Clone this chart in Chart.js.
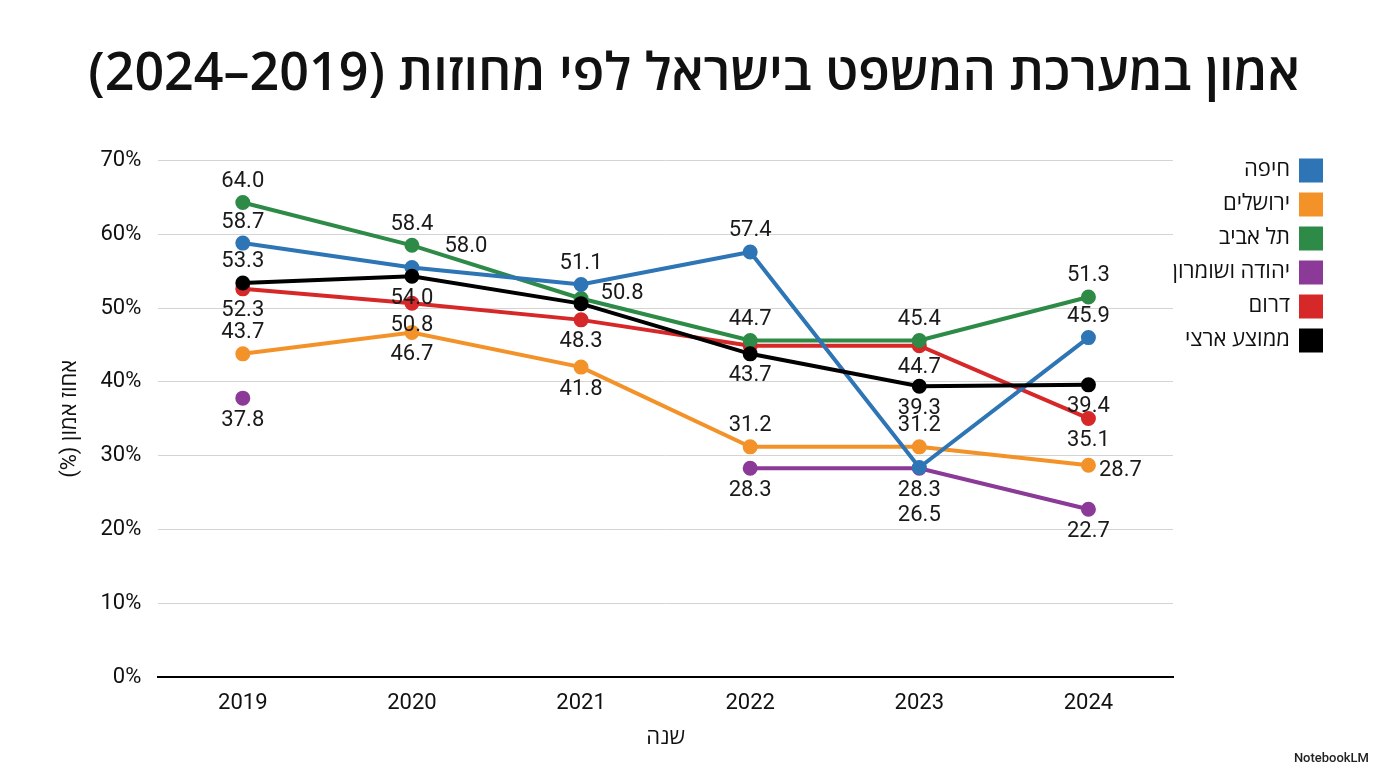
<!DOCTYPE html>
<html lang="he">
<head>
<meta charset="utf-8">
<title>אמון במערכת המשפט בישראל לפי מחוזות</title>
<script src="https://cdn.jsdelivr.net/npm/chart.js@4.4.1/dist/chart.umd.min.js"></script>
<style>
  html, body { margin: 0; padding: 0; background: #fff; }
  #wrap { position: relative; width: 1376px; height: 768px; }
  #mark { position: absolute; right: 7px; bottom: 3px; font: 500 13px Roboto, sans-serif; color: #222; }
</style>
</head>
<body>
<div id="wrap">
  <canvas id="chart" dir="rtl"></canvas>
  <div id="mark">NotebookLM</div>
</div>
<script>
// years on the x axis
const years = ['2019', '2020', '2021', '2022', '2023', '2024'];
const yTicks = [0, 10, 20, 30, 40, 50, 60, 70];

// point values (null = no point)
const haifa     = [58.8, 55.5, 53.2, 57.6, 28.4, 46.0];
const jerusalem = [43.8, 46.7, 42.0, 31.2, 31.2, 28.7];
const telAviv   = [64.3, 58.5, 51.3, 45.6, 45.6, 51.5];
const judea     = [37.8, null, null, 28.3, 28.3, 22.75];
const south     = [52.6, 50.65, 48.4, 44.9, 44.9, 35.05];
const national  = [53.4, 54.3, 50.6, 43.8, 39.4, 39.6];

// the label text printed next to each point (as it appears on the chart)
const haifaText     = ['58.7', '58.0', '51.1', '57.4', '26.5', '45.9'];
const jerusalemText = ['43.7', '46.7', '41.8', '31.2', '31.2', '28.7'];
const telAvivText   = ['64.0', '58.4', null, '44.7', '45.4', '51.3'];
const judeaText     = ['37.8', null, null, '28.3', '28.3', '22.7'];
const southText     = ['52.3', '50.8', '48.3', null, '44.7', '35.1'];
const nationalText  = ['53.3', '54.0', '50.8', '43.7', '39.3', '39.4'];

// where each label sits relative to its point
const haifaPos     = ['a', 'ur', 'a', 'a', 'b2', 'a'];
const jerusalemPos = ['a', 'b', 'b', 'a', 'a', 'r'];
const telAvivPos   = ['a', 'a', null, 'a', 'a', 'a'];
const judeaPos     = ['b', null, null, 'b', 'b', 'b'];
const southPos     = ['b', 'b', 'b', null, 'b', 'b'];
const nationalPos  = ['a', 'b', 'r2', 'b', 'b', 'b'];

const OFFSETS = { a: [0, -21], b: [0, 22], b2: [0, 48], ur: [54, -21], r: [32, 5], r2: [41, -10] };

const FONT = "Roboto, 'Open Sans', 'Noto Sans', sans-serif";

// draws the number next to each point
const pointLabels = {
  id: 'pointLabels',
  afterDatasetsDraw(chart) {
    const ctx = chart.ctx;
    ctx.save();
    ctx.font = '22px ' + FONT;
    ctx.fillStyle = '#1a1a1a';
    ctx.textAlign = 'center';
    ctx.textBaseline = 'middle';
    chart.data.datasets.forEach((ds, i) => {
      const meta = chart.getDatasetMeta(i);
      ds.pointText.forEach((t, j) => {
        if (!t) return;
        const pt = meta.data[j];
        const off = OFFSETS[ds.pointPos[j]];
        ctx.fillText(t, pt.x + off[0], pt.y + off[1]);
      });
    });
    ctx.restore();
  }
};

// the legend starts a little above the top gridline, nudge it up
const legendNudge = {
  id: 'legendNudge',
  afterLayout(chart) {
    const lg = chart.legend;
    if (!lg) return;
    lg.top -= 13;
    lg.bottom -= 13;
  }
};

function series(label, data, color, text, pos, order) {
  return {
    label: label,
    data: data,
    borderColor: color,
    backgroundColor: color,
    pointBackgroundColor: color,
    pointBorderColor: color,
    borderWidth: 4,
    pointRadius: 5.5,
    pointHoverRadius: 5.5,
    spanGaps: false,
    tension: 0,
    order: order,
    pointText: text,
    pointPos: pos
  };
}

new Chart(document.getElementById('chart'), {
  type: 'line',
  data: {
    labels: years,
    datasets: [
      series('חיפה', haifa, '#2E75B6', haifaText, haifaPos, 1),
      series('ירושלים', jerusalem, '#F39229', jerusalemText, jerusalemPos, 1),
      series('תל אביב', telAviv, '#2E8B47', telAvivText, telAvivPos, 1),
      series('יהודה ושומרון', judea, '#8B3A98', judeaText, judeaPos, 1),
      series('דרום', south, '#D62829', southText, southPos, 1),
      series('ממוצע ארצי', national, '#000000', nationalText, nationalPos, 0)
    ]
  },
  options: {
    responsive: true,
    maintainAspectRatio: false,
    animation: false,
    layout: { padding: { left: 55, right: 43, bottom: 12 } },
    plugins: {
      title: {
        display: true,
        text: 'אמון במערכת המשפט בישראל לפי מחוזות (2019–2024)',
        color: '#111',
        font: { family: "'Open Sans', Roboto, sans-serif", size: 52, weight: '600' },
        padding: { top: 44, bottom: 54 }
      },
      legend: {
        position: 'right',
        align: 'start',
        fullSize: false,
        maxWidth: 160,
        rtl: true,
        textDirection: 'rtl',
        labels: {
          boxWidth: 20,
          boxHeight: 20,
          padding: 12,
          color: '#111',
          font: { family: FONT, size: 22 },
          sort: (a, b) => a.datasetIndex - b.datasetIndex
        }
      },
      tooltip: { enabled: false }
    },
    scales: {
      x: {
        offset: true,
        grid: { display: false, drawTicks: false },
        border: { color: '#000', width: 2 },
        ticks: { color: '#111', padding: 13, font: { family: FONT, size: 22 } },
        title: {
          display: true,
          text: 'שנה',
          color: '#111',
          font: { family: FONT, size: 22 },
          padding: { top: -4 }
        }
      },
      y: {
        min: 0,
        max: 70,
        afterBuildTicks: (axis) => { axis.ticks = yTicks.map(v => ({ value: v })); },
        grid: { color: '#d4d4d4', lineWidth: 1, drawTicks: false },
        border: { display: false },
        ticks: { color: '#111', padding: 17, font: { family: FONT, size: 22 }, callback: v => v + '%' },
        title: {
          display: true,
          text: 'אחוז אמון (%)',
          color: '#111',
          font: { family: FONT, size: 22 },
          padding: { top: 2, bottom: 0 }
        }
      }
    }
  },
  plugins: [pointLabels, legendNudge]
});
</script>
</body>
</html>
